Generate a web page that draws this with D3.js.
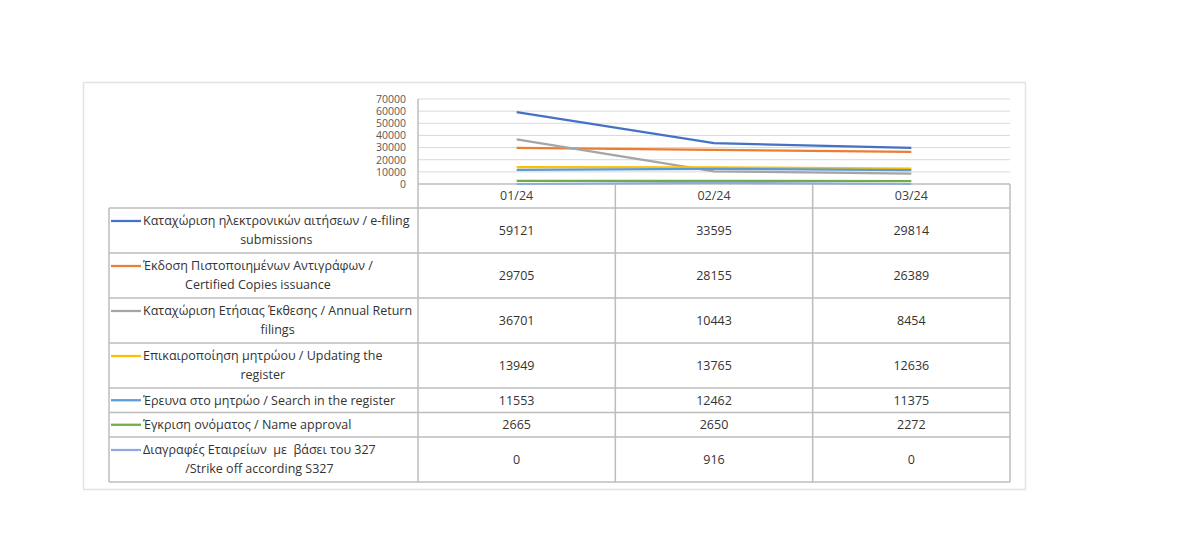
<!DOCTYPE html>
<html>
<head>
<meta charset="utf-8">
<script src="https://cdn.jsdelivr.net/npm/d3@7"></script>
<style>
  body { margin: 0; background: #fff; }
  svg text { font-family: "Open Sans", "Noto Sans", sans-serif; }
</style>
</head>
<body>
<div id="chart"></div>
<script>

// months on the x axis
var months = ["01/24", "02/24", "03/24"];

// legend / row labels, as wrapped in the table
var seriesLabels = [
    ["Καταχώριση ηλεκτρονικών αιτήσεων / e-filing", "submissions"],
    ["Έκδοση Πιστοποιημένων Αντιγράφων /", "Certified Copies issuance"],
    ["Καταχώριση Ετήσιας Έκθεσης / Annual Return", "filings"],
    ["Επικαιροποίηση μητρώου / Updating the", "register"],
    ["Έρευνα στο μητρώο / Search in the register"],
    ["Έγκριση ονόματος / Name approval"],
    ["Διαγραφές Εταιρείων  με  βάσει του 327", "/Strike off according S327"]
];

// series values per month
var eFiling     = [59121, 33595, 29814];
var certCopies  = [29705, 28155, 26389];
var annualRet   = [36701, 10443, 8454];
var updating    = [13949, 13765, 12636];
var search      = [11553, 12462, 11375];
var nameApprove = [2665, 2650, 2272];
var strikeOff   = [0, 916, 0];

var allSeries = [eFiling, certCopies, annualRet, updating, search, nameApprove, strikeOff];

var colors = ["#4472C4", "#ED7D31", "#A5A5A5", "#FFC000", "#5B9BD5", "#70AD47", "#8FAADC"];

var svg = d3.select("#chart").append("svg")
    .attr("width", 1200)
    .attr("height", 536);

// outer chart frame
svg.append("rect")
    .attr("x", 83.5).attr("y", 82.5)
    .attr("width", 942).attr("height", 407)
    .attr("fill", "#fff")
    .attr("stroke", "#e3e3e3")
    .attr("stroke-width", 1.5);

var plotLeft = 418, plotRight = 1010, plotTop = 99, plotBottom = 184;
var tableLeft = 109;

var x = d3.scalePoint()
    .domain(months)
    .range([plotLeft, plotRight])
    .padding(0.5);

var y = d3.scaleLinear()
    .domain([0, 70000])
    .range([plotBottom, plotTop]);

// gridlines
svg.append("g")
    .selectAll("line")
    .data(y.ticks(7).filter(function(d) { return d > 0; }))
    .enter().append("line")
    .attr("x1", plotLeft).attr("x2", plotRight)
    .attr("y1", function(d) { return y(d); })
    .attr("y2", function(d) { return y(d); })
    .attr("stroke", "#d9d9d9")
    .attr("stroke-width", 1);

// y axis labels
var yAxis = d3.axisLeft(y).ticks(7).tickFormat(d3.format("d")).tickSize(0).tickPadding(12);
var yG = svg.append("g")
    .attr("transform", "translate(" + plotLeft + ",0)")
    .call(yAxis);
yG.select(".domain").remove();
yG.selectAll("text")
    .attr("fill", "#595959")
    .style("font-size", "10.5px")
    .style("font-family", "'Open Sans', sans-serif");

// table geometry
var headerH = 24;
var rowHeights = seriesLabels.map(function(l) { return l.length > 1 ? 45 : 24.5; });
var rowTops = [];
var acc = plotBottom + headerH;
rowHeights.forEach(function(h) { rowTops.push(acc); acc += h; });
var tableBottom = acc;

var colEdges = [plotLeft].concat(months.map(function(m) { return x(m) + x.step() / 2; }));

var grid = svg.append("g")
    .attr("stroke", "#bdbdbd")
    .attr("stroke-width", 1.5);

// top of header (x axis)
grid.append("line")
    .attr("x1", plotLeft).attr("x2", plotRight)
    .attr("y1", plotBottom).attr("y2", plotBottom);

// horizontal row lines
grid.selectAll(".hline")
    .data(rowTops.concat([tableBottom]))
    .enter().append("line")
    .attr("class", "hline")
    .attr("x1", tableLeft).attr("x2", plotRight)
    .attr("y1", function(d) { return d; })
    .attr("y2", function(d) { return d; });

// vertical lines
grid.append("line")
    .attr("x1", tableLeft).attr("x2", tableLeft)
    .attr("y1", plotBottom + headerH).attr("y2", tableBottom);
grid.append("line")
    .attr("x1", plotLeft).attr("x2", plotLeft)
    .attr("y1", plotTop).attr("y2", tableBottom);
grid.selectAll(".vline")
    .data(colEdges.slice(1))
    .enter().append("line")
    .attr("class", "vline")
    .attr("x1", function(d) { return d; }).attr("x2", function(d) { return d; })
    .attr("y1", plotBottom).attr("y2", tableBottom);

// series lines
var line = d3.line()
    .x(function(d, i) { return x(months[i]); })
    .y(function(d) { return y(d); });

svg.append("g")
    .selectAll("path")
    .data(allSeries)
    .enter().append("path")
    .attr("d", line)
    .attr("fill", "none")
    .attr("stroke", function(d, i) { return colors[i]; })
    .attr("stroke-width", 2.25);

// header month labels
svg.append("g")
    .selectAll("text")
    .data(months)
    .enter().append("text")
    .attr("x", function(d) { return x(d); })
    .attr("y", plotBottom + headerH / 2)
    .attr("dy", "0.35em")
    .attr("text-anchor", "middle")
    .attr("fill", "#404040")
    .style("font-size", "12.5px")
    .text(function(d) { return d; });

// rows: legend key, label, values
var textLeft = 143;
var lineGap = 19;

seriesLabels.forEach(function(lines, r) {
    var top = rowTops[r], h = rowHeights[r];
    var firstY = top + h / 2 - (lines.length - 1) * lineGap / 2;

    svg.append("line")
        .attr("x1", 111).attr("x2", 141)
        .attr("y1", firstY).attr("y2", firstY)
        .attr("stroke", colors[r])
        .attr("stroke-width", 2.25);

    var g = svg.append("g");
    var texts = g.selectAll("text")
        .data(lines)
        .enter().append("text")
        .attr("y", function(d, i) { return firstY + i * lineGap; })
        .attr("dy", "0.35em")
        .attr("text-anchor", "middle")
        .attr("fill", "#333333")
        .style("font-size", "12.5px")
        .style("white-space", "pre")
        .text(function(d) { return d; });

    var maxW = d3.max(texts.nodes(), function(n) { return n.getComputedTextLength(); });
    texts.attr("x", textLeft + maxW / 2);

    svg.append("g")
        .selectAll("text")
        .data(allSeries[r])
        .enter().append("text")
        .attr("x", function(d, i) { return x(months[i]); })
        .attr("y", top + h / 2)
        .attr("dy", "0.35em")
        .attr("text-anchor", "middle")
        .attr("fill", "#333333")
        .style("font-size", "12.5px")
        .text(function(d) { return d; });
});

</script>
</body>
</html>
